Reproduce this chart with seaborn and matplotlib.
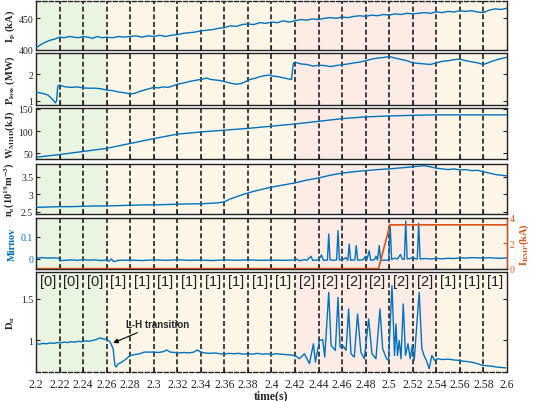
import numpy as np
import matplotlib
matplotlib.use("Agg")
import matplotlib.pyplot as plt
import seaborn as sns

# -------------------------------
# DATA
# -------------------------------
ip_t = [2.200, 2.204, 2.208, 2.212, 2.216, 2.220, 2.224, 2.228, 2.232, 2.236, 2.240, 2.244, 2.248, 2.252,
        2.256, 2.260, 2.265, 2.270, 2.275, 2.280, 2.285, 2.290, 2.295, 2.300, 2.305, 2.310, 2.315, 2.320,
        2.325, 2.330, 2.335, 2.340, 2.345, 2.350, 2.355, 2.360, 2.365, 2.370, 2.375, 2.380, 2.385, 2.390,
        2.395, 2.400, 2.405, 2.410, 2.415, 2.420, 2.425, 2.430, 2.435, 2.440, 2.445, 2.450, 2.455, 2.460,
        2.465, 2.470, 2.475, 2.480, 2.485, 2.490, 2.495, 2.500, 2.505, 2.510, 2.515, 2.520, 2.525, 2.530,
        2.535, 2.540, 2.545, 2.550, 2.555, 2.560, 2.565, 2.570, 2.575, 2.580, 2.585, 2.590, 2.595, 2.600]
ip_val = [403, 408, 412, 415, 417, 420, 419, 421, 420, 419, 421, 420, 418, 421,
          419, 420, 419, 421, 420, 421, 422, 420, 422, 421, 423, 421, 423, 424,
          426, 427, 428, 430, 431, 432, 434, 435, 438, 437, 440, 441, 440, 443,
          442, 444, 443, 446, 444, 446, 448, 447, 449, 448, 450, 451, 450, 452,
          451, 453, 454, 453, 455, 454, 456, 455, 457, 456, 458, 457, 458, 459,
          458, 460, 459, 461, 460, 462, 461, 462, 460, 459, 463, 465, 464, 466]

ploss_t = [2.200, 2.205, 2.210, 2.214, 2.2165, 2.2175, 2.2185, 2.220, 2.225, 2.230, 2.235, 2.240, 2.245,
           2.250, 2.255, 2.260, 2.265, 2.270, 2.275, 2.280, 2.284, 2.288, 2.292, 2.296, 2.300, 2.304,
           2.308, 2.312, 2.316, 2.320, 2.325, 2.330, 2.335, 2.340, 2.345, 2.348, 2.352, 2.356, 2.360,
           2.365, 2.370, 2.374, 2.378, 2.382, 2.386, 2.390, 2.394, 2.398, 2.402, 2.406, 2.410, 2.414,
           2.417, 2.4185, 2.420, 2.425, 2.430, 2.435, 2.440, 2.445, 2.450, 2.455, 2.460, 2.465, 2.470,
           2.475, 2.480, 2.485, 2.490, 2.495, 2.500, 2.505, 2.510, 2.515, 2.520, 2.525, 2.530, 2.535,
           2.540, 2.545, 2.550, 2.555, 2.560, 2.565, 2.570, 2.575, 2.580, 2.585, 2.590, 2.595, 2.600]
ploss_val = [1.32, 1.28, 1.22, 1.05, 0.92, 1.00, 1.55, 1.58, 1.52, 1.50, 1.52, 1.48, 1.47,
             1.47, 1.45, 1.40, 1.38, 1.33, 1.30, 1.25, 1.28, 1.35, 1.40, 1.45, 1.50, 1.48,
             1.52, 1.50, 1.55, 1.62, 1.66, 1.72, 1.76, 1.80, 1.85, 1.80, 1.78, 1.76, 1.72,
             1.66, 1.62, 1.64, 1.72, 1.80, 1.84, 1.90, 1.94, 1.96, 1.92, 1.90, 1.86, 1.82,
             1.80, 2.40, 2.44, 2.38, 2.36, 2.30, 2.33, 2.32, 2.28, 2.32, 2.35, 2.38, 2.42,
             2.45, 2.50, 2.56, 2.60, 2.62, 2.66, 2.60, 2.55, 2.50, 2.42, 2.40, 2.38, 2.36,
             2.42, 2.48, 2.50, 2.54, 2.56, 2.50, 2.46, 2.42, 2.36, 2.44, 2.52, 2.58, 2.63]

w_t = [2.20, 2.22, 2.24, 2.26, 2.28, 2.30, 2.32, 2.34, 2.36, 2.38, 2.40, 2.42, 2.44, 2.46, 2.48,
       2.50, 2.52, 2.54, 2.56, 2.58, 2.60]
w_val = [41, 47, 54, 61, 72, 83, 93, 98, 102, 106, 111, 116, 122, 128, 132,
         134, 135.5, 136.5, 136.5, 136.5, 136.5]

ne_t = [2.20, 2.21, 2.22, 2.23, 2.24, 2.25, 2.26, 2.27, 2.28, 2.29, 2.30, 2.31, 2.32, 2.33, 2.34,
        2.35, 2.355, 2.36, 2.365, 2.37, 2.375, 2.38, 2.385, 2.39, 2.395, 2.40, 2.41, 2.42, 2.43,
        2.44, 2.45, 2.46, 2.47, 2.48, 2.49, 2.50, 2.51, 2.52, 2.525, 2.53, 2.535, 2.54, 2.545,
        2.55, 2.555, 2.56, 2.565, 2.57, 2.575, 2.58, 2.585, 2.59, 2.595, 2.60]
ne_val = [2.62, 2.63, 2.64, 2.64, 2.65, 2.66, 2.66, 2.67, 2.68, 2.69, 2.69, 2.70, 2.71, 2.72, 2.72,
          2.74, 2.75, 2.78, 2.86, 2.92, 2.98, 3.03, 3.08, 3.12, 3.16, 3.20, 3.26, 3.32, 3.40,
          3.46, 3.54, 3.60, 3.64, 3.67, 3.70, 3.72, 3.75, 3.78, 3.80, 3.81, 3.78, 3.74, 3.72,
          3.70, 3.72, 3.69, 3.70, 3.67, 3.68, 3.64, 3.60, 3.56, 3.54, 3.52]

mir_t = [2.200, 2.205, 2.210, 2.215, 2.219, 2.2205, 2.225, 2.230, 2.235, 2.240, 2.245, 2.250, 2.255,
         2.260, 2.262, 2.264, 2.266, 2.270, 2.280, 2.290, 2.300, 2.310, 2.320, 2.330, 2.340, 2.350,
         2.360, 2.370, 2.380, 2.390, 2.400, 2.410, 2.418, 2.421, 2.424, 2.428, 2.430, 2.4335, 2.435,
         2.440, 2.4425, 2.444, 2.4475, 2.4486, 2.4497, 2.4525, 2.4553, 2.4565, 2.4577, 2.461, 2.463,
         2.4648, 2.466, 2.4672, 2.4708, 2.472, 2.4732, 2.478, 2.4797, 2.481, 2.483, 2.4842, 2.4875,
         2.4888, 2.490, 2.4915, 2.4927, 2.4995, 2.5008, 2.502, 2.505, 2.507, 2.5095, 2.511, 2.5128,
         2.514, 2.5152, 2.518, 2.520, 2.5225, 2.5238, 2.525, 2.5262, 2.530, 2.535, 2.540, 2.545,
         2.550, 2.555, 2.560, 2.565, 2.570, 2.575, 2.580, 2.585, 2.590, 2.595, 2.600]
mir_val = [0.004, 0.006, 0.004, 0.005, 0.004, -0.007, -0.006, -0.004, -0.006, -0.003, -0.005, -0.004, -0.007,
           -0.004, -0.010, 0.000, -0.012, -0.006, -0.005, -0.007, -0.004, -0.006, -0.004, -0.006, -0.005, -0.007,
           -0.004, -0.006, -0.004, -0.006, -0.005, -0.006, -0.005, 0.000, -0.008, -0.003, -0.006, 0.012, -0.006,
           -0.004, 0.018, -0.006, -0.005, 0.112, -0.004, -0.006, -0.004, 0.127, -0.005, -0.002, 0.006,
           -0.006, 0.067, -0.006, -0.004, 0.060, -0.006, -0.003, 0.012, -0.004, 0.037, -0.006, -0.003,
           0.012, -0.005, 0.060, -0.006, -0.005, 0.150, -0.002, 0.004, 0.000, 0.020, 0.000, -0.002,
           0.170, 0.000, 0.002, 0.008, 0.000, 0.000, 0.160, 0.000, 0.002, 0.000, 0.002, 0.001,
           0.003, 0.002, 0.005, 0.004, 0.006, 0.005, 0.004, 0.006, 0.004, 0.003, 0.005]

irmp_t = [2.2, 2.4909, 2.5006, 2.6]
irmp_val = [0.0, 0.0, 3.46, 3.46]

da_t = [2.200, 2.203, 2.206, 2.209, 2.212, 2.215, 2.218, 2.221, 2.224, 2.227, 2.230, 2.233, 2.236,
        2.239, 2.242, 2.245, 2.248, 2.251, 2.254, 2.257, 2.2595, 2.2625, 2.264, 2.2655, 2.267, 2.268,
        2.270, 2.273, 2.276, 2.280, 2.284, 2.288, 2.292, 2.296, 2.300, 2.304, 2.308, 2.311, 2.314,
        2.318, 2.322, 2.326, 2.330, 2.334, 2.337, 2.340, 2.343, 2.348, 2.352, 2.356, 2.360, 2.364,
        2.368, 2.372, 2.376, 2.380, 2.384, 2.388, 2.392, 2.396, 2.400, 2.404, 2.408, 2.412, 2.416,
        2.420, 2.4237, 2.428, 2.4322, 2.4356, 2.4373, 2.4407, 2.4435, 2.4452, 2.4486, 2.4506, 2.4542,
        2.4565, 2.4582, 2.4605, 2.4633, 2.4655, 2.4675, 2.4703, 2.4731, 2.4759, 2.4788, 2.4825,
        2.4853, 2.4887, 2.4921, 2.4944, 2.4977, 2.4994, 2.5023, 2.5045, 2.5057, 2.5070, 2.5085,
        2.5100, 2.5119, 2.5138, 2.5159, 2.5178, 2.5195, 2.5212, 2.5254, 2.5277, 2.5295, 2.5315,
        2.5339, 2.5362, 2.5385, 2.541, 2.545, 2.550, 2.555, 2.5593, 2.563, 2.567, 2.571, 2.575,
        2.5791, 2.583, 2.587, 2.591, 2.595, 2.5989]
da_val = [0.960, 0.955, 0.965, 0.960, 0.970, 0.965, 0.975, 0.970, 0.980, 0.975, 0.985, 0.980, 0.990,
          0.985, 0.995, 0.990, 1.000, 1.010, 1.030, 1.020, 1.010, 0.990, 0.950, 0.900, 0.700, 0.680,
          0.720, 0.740, 0.770, 0.820, 0.830, 0.840, 0.860, 0.860, 0.860, 0.855, 0.865, 0.885, 0.860,
          0.855, 0.850, 0.855, 0.850, 0.860, 0.885, 0.860, 0.850, 0.845, 0.850, 0.840, 0.835, 0.845,
          0.840, 0.845, 0.835, 0.840, 0.835, 0.845, 0.835, 0.840, 0.830, 0.840, 0.835, 0.830, 0.825,
          0.820, 0.780, 0.840, 0.720, 0.960, 0.740, 1.000, 1.010, 0.800, 1.580, 0.940, 0.880,
          1.520, 0.920, 0.940, 0.880, 1.380, 0.840, 0.800, 1.320, 0.860, 0.780, 1.260,
          0.840, 0.780, 1.380, 0.900, 0.780, 0.760, 1.660, 0.820, 1.200, 0.820, 1.000,
          0.780, 1.440, 0.820, 0.960, 0.780, 0.940, 0.760, 1.580, 0.900, 0.820, 0.760,
          0.660, 0.820, 0.760, 0.780, 0.770, 0.775, 0.765, 0.760, 0.750, 0.745, 0.735, 0.720,
          0.700, 0.695, 0.690, 0.680, 0.675, 0.670]

# time windows and their state labels
phase_edges = [2.2, 2.26, 2.42, 2.54, 2.6]
phase_colors = ["#eaf5e1", "#fdf6e7", "#fdece5", "#fdf6e7"]
window_edges = [round(2.2 + 0.02 * i, 2) for i in range(21)]
window_states = [0, 0, 0, 1, 1, 1, 1, 1, 1, 1, 1, 2, 2, 2, 2, 2, 2, 1, 1, 1]

BLUE = "#0072BD"
ORANGE = "#D95319"

# -------------------------------
# FIGURE
# -------------------------------
sns.set_style("ticks")
plt.rcParams["font.family"] = ["Liberation Serif", "DejaVu Serif"]
plt.rcParams["mathtext.fontset"] = "stix"
plt.rcParams["xtick.direction"] = "in"
plt.rcParams["ytick.direction"] = "in"

fig = plt.figure(figsize=(5.33, 4.02), dpi=100)
W_PX, H_PX = 533, 402
LEFT, RIGHT = 36, 507
panels_px = [(2, 51), (54, 106), (109, 160), (165, 215), (219, 270), (273, 373)]

axes = []
for top, bot in panels_px:
    ax = fig.add_axes([LEFT / W_PX, 1 - bot / H_PX, (RIGHT - LEFT) / W_PX, (bot - top) / H_PX])
    axes.append(ax)

series = [(ip_t, ip_val), (ploss_t, ploss_val), (w_t, w_val), (ne_t, ne_val), (mir_t, mir_val), (da_t, da_val)]
ylims = [(399.5, 477.5), (0.84, 2.79), (37, 152), (2.43, 3.86), (-0.045, 0.184), (0.62, 1.825)]
yticks = [[400, 450], [1, 2], [50, 100, 150], [2.5, 3, 3.5], [0, 0.1], [1, 1.5]]
ylabels = [r"$\mathbf{I_p}$ (kA)", r"$\mathbf{P_{loss}}$ (MW)", r"$\mathbf{W_{MHD}}$(kJ)",
           r"$\mathbf{n_e}$(10$^{\mathbf{19}}$m$^{\mathbf{-3}}$)", "Mirnov", r"$\mathbf{D_\alpha}$"]

xticks = window_edges
xticklabels = [f"{v:g}" for v in xticks]

for i, ax in enumerate(axes):
    for k in range(len(phase_colors)):
        ax.axvspan(phase_edges[k], phase_edges[k + 1], color=phase_colors[k], lw=0, zorder=0)
    for xv in window_edges[1:-1]:
        ax.axvline(xv, color="#222222", lw=1.2, ls=(0, (3, 1.6)), zorder=1)
    t, v = series[i]
    sns.lineplot(x=t, y=v, ax=ax, color=BLUE, lw=1.0, zorder=3)
    ax.set_xlim(2.2, 2.6)
    ax.set_ylim(*ylims[i])
    ax.set_yticks(yticks[i])
    ax.set_yticklabels([f"{y:g}" for y in yticks[i]], fontsize=7)
    ax.set_xticks(xticks)
    ax.tick_params(axis="both", direction="in", length=3, width=0.8, right=True, top=False, pad=2)
    ax.set_ylabel(ylabels[i], fontsize=7.5, fontweight="bold")
    ax.yaxis.set_label_coords(-0.041, 0.5)
    for sp in ax.spines.values():
        sp.set_linewidth(1.0)
        sp.set_color("#222222")
    if i < 5:
        ax.set_xticklabels([])
    ax.set_xlabel("")

# Ip top edge and D_alpha bottom edge are dashed
axes[0].spines["top"].set_linestyle((0, (3, 1.6)))
axes[5].spines["bottom"].set_linestyle((0, (3, 1.6)))

# Mirnov panel: blue left labels, I_RMP on the right
ax5 = axes[4]
ax5.yaxis.label.set_color(BLUE)
ax5.tick_params(axis="y", labelcolor=BLUE)
ax5.tick_params(axis="y", right=False)
ax5r = ax5.twinx()
sns.lineplot(x=irmp_t, y=irmp_val, ax=ax5r, color=ORANGE, lw=1.2)
ax5r.set_ylim(-0.03, 4.0)
ax5r.set_yticks([0, 2, 4])
ax5r.set_yticklabels(["0", "2", "4"], fontsize=7)
ax5r.tick_params(axis="y", direction="in", length=3, colors=ORANGE, labelcolor=ORANGE, pad=2)
ax5r.spines["right"].set_color(ORANGE)
ax5r.set_ylabel(r"$\mathbf{I_{RMP}}$(kA)", fontsize=7.5, fontweight="bold", color=ORANGE)
ax5r.yaxis.set_label_coords(1.022, 0.5)
ax5r.set_xlim(2.2, 2.6)

# D_alpha panel: x labels, state labels, annotation
ax6 = axes[5]
ax6.set_xticklabels(xticklabels, fontsize=8.5)
ax6.tick_params(axis="x", pad=4)
ax6.set_xlabel("time(s)", fontsize=8.5, fontweight="bold", labelpad=0)
for k, s in enumerate(window_states):
    xc = (window_edges[k] + window_edges[k + 1]) / 2
    ax6.text(xc, 1.72, f"[{s}]", ha="center", va="center", fontsize=10.5,
             family=["Liberation Sans", "DejaVu Sans"], color="#222222", zorder=4)
ax6.annotate("L-H transition", xy=(2.2655, 0.97), xytext=(2.2768, 1.2),
             fontsize=7, fontweight="bold", family=["Liberation Sans", "DejaVu Sans"],
             ha="left", va="center",
             arrowprops=dict(arrowstyle="-|>", color="black", lw=0.8, mutation_scale=7,
                             shrinkA=1, shrinkB=0), zorder=5)

fig.savefig("out.png", dpi=100)
